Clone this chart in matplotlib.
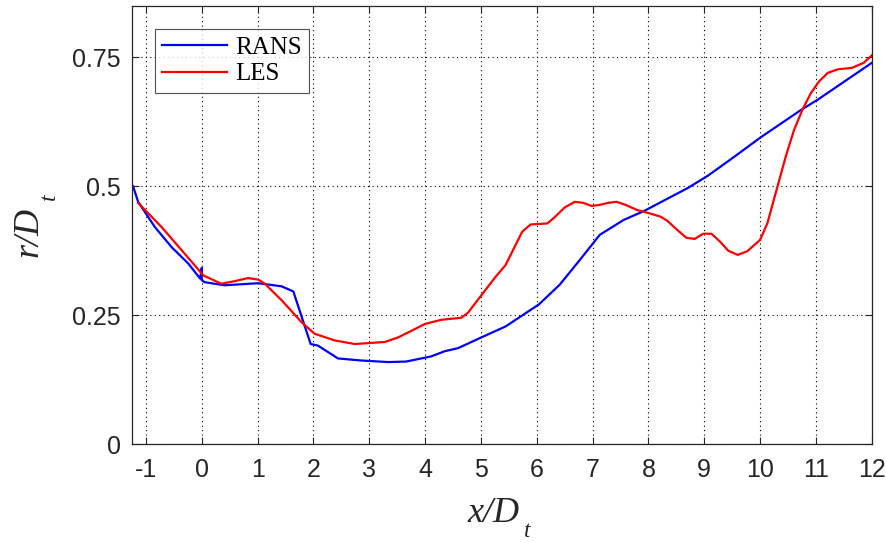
import matplotlib
matplotlib.use("Agg")
import matplotlib.pyplot as plt

# RANS curve
rans_x = [-1.23, -1.14, -0.84, -0.54, -0.24, -0.03, 0.0, 0.0, 0.05, 0.41, 1.01, 1.43, 1.64,
          1.95, 2.08, 2.44, 2.86, 3.34, 3.66, 4.11, 4.35, 4.59, 5.01, 5.44, 6.04, 6.41,
          6.77, 7.13, 7.56, 7.92, 8.34, 8.71, 9.07, 9.52, 10.01, 10.73, 11.03, 12.02]
rans_y = [0.500, 0.470, 0.421, 0.382, 0.350, 0.321, 0.342, 0.318, 0.314, 0.308, 0.312, 0.306, 0.296,
          0.194, 0.191, 0.166, 0.162, 0.159, 0.160, 0.170, 0.180, 0.186, 0.207, 0.228, 0.271, 0.309,
          0.357, 0.406, 0.435, 0.452, 0.476, 0.497, 0.521, 0.556, 0.595, 0.648, 0.668, 0.741]

# LES curve
les_x = [-1.14, -0.72, -0.36, 0.03, 0.35, 0.59, 0.83, 1.01, 1.13, 1.43, 1.79, 2.02, 2.38,
         2.74, 3.28, 3.52, 4.0, 4.29, 4.65, 4.77, 5.01, 5.26, 5.44, 5.74, 5.89, 6.19, 6.31,
         6.50, 6.68, 6.83, 6.98, 7.13, 7.28, 7.43, 7.59, 7.80, 8.04, 8.22, 8.34, 8.52, 8.68,
         8.83, 8.98, 9.13, 9.28, 9.43, 9.60, 9.77, 10.0, 10.13, 10.31, 10.46, 10.61, 10.76,
         10.91, 11.06, 11.21, 11.39, 11.65, 11.86, 12.02]
les_y = [0.468, 0.421, 0.376, 0.327, 0.311, 0.316, 0.322, 0.319, 0.311, 0.279, 0.236, 0.214, 0.201,
         0.194, 0.198, 0.207, 0.233, 0.241, 0.245, 0.255, 0.289, 0.324, 0.347, 0.412, 0.426, 0.428, 0.439,
         0.459, 0.470, 0.468, 0.462, 0.464, 0.468, 0.470, 0.464, 0.454, 0.447, 0.441, 0.433, 0.415, 0.400,
         0.398, 0.408, 0.408, 0.393, 0.375, 0.367, 0.374, 0.396, 0.428, 0.499, 0.558, 0.610, 0.649,
         0.681, 0.704, 0.720, 0.727, 0.730, 0.740, 0.756]

x_ticks = list(range(-1, 13))
y_ticks = [0, 0.25, 0.5, 0.75]
y_ticklabels = ['0', '0.25', '0.5', '0.75']

W, H = 887, 542
fig = plt.figure(figsize=(W / 100, H / 100), dpi=100)
ax = fig.add_axes([0.1488, 0.1808, 0.834, 0.8082])

ax.plot(rans_x, rans_y, color='#0000ff', linewidth=1.6, label='RANS')
ax.plot(les_x, les_y, color='#ff0000', linewidth=1.6, label='LES')

ax.set_xlim(-1.25, 12)
ax.set_ylim(0, 0.85)
ax.set_xticks(x_ticks)
ax.set_xticklabels([str(t) for t in x_ticks])
ax.set_yticks(y_ticks)
ax.set_yticklabels(y_ticklabels)

ax.grid(True, linestyle=(0, (1, 3)), color='black', linewidth=0.8)
ax.tick_params(direction='in', length=5, labelsize=18, colors='#262626',
               top=True, right=True)
ax.tick_params(axis='x', pad=10)
ax.tick_params(axis='y', pad=8)
for lab in ax.get_xticklabels() + ax.get_yticklabels():
    lab.set_family('Liberation Sans')
for s in ax.spines.values():
    s.set_color('#262626')
    s.set_linewidth(0.9)

# axis labels, MATLAB style with a deep subscript
lab_font = dict(family='Liberation Serif', style='italic', color='#262626')
fig.text(467 / W, 1 - 522.5 / H, 'x/D', fontsize=26, ha='left', va='baseline', **lab_font)
fig.text(524 / W, 1 - 537 / H, 't', fontsize=17, ha='left', va='baseline', **lab_font)
fig.text(38 / W, 1 - 257 / H, 'r/D', fontsize=26, rotation=90, rotation_mode='anchor',
         ha='left', va='baseline', **lab_font)
fig.text(55 / W, 1 - 200 / H, 't', fontsize=17, rotation=90, rotation_mode='anchor',
         ha='left', va='baseline', **lab_font)

leg = ax.legend(loc='upper left', bbox_to_anchor=(0.031, 0.947), borderaxespad=0,
                prop={'family': 'Liberation Serif', 'size': 18}, fancybox=False,
                handlelength=2.6, handletextpad=0.3, labelspacing=0.15,
                borderpad=0.3)
leg.get_frame().set_edgecolor('#262626')
leg.get_frame().set_linewidth(0.8)

fig.savefig('out.png', dpi=100)
